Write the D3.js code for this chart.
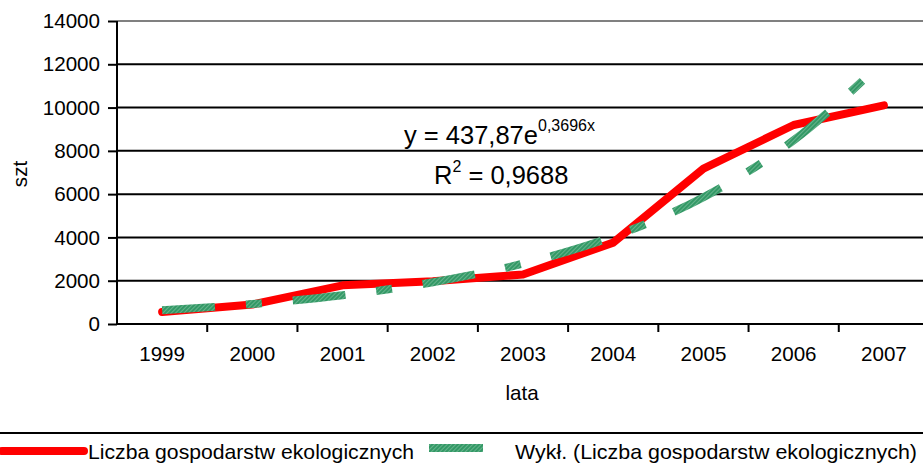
<html>
<head>
<script src="https://cdn.jsdelivr.net/npm/d3@7"></script>
<style>
  body { margin: 0; background: #fff; }
  text { font-family: Arial, "Liberation Sans", sans-serif; fill: #000; }
</style>
</head>
<body>
<div id="chart"></div>
<script>
// data
var years = ["1999", "2000", "2001", "2002", "2003", "2004", "2005", "2006", "2007"];
var farms = [555, 900, 1787, 1977, 2286, 3760, 7182, 9194, 10100];
var trend = [640, 920, 1330, 1930, 2790, 4040, 5860, 8490, 12170];
var yTicks = [0, 2000, 4000, 6000, 8000, 10000, 12000, 14000];

var width = 923, height = 465;
var plot = { left: 117, top: 21, right: 929, bottom: 324 };
var fs = "20.6px";

var svg = d3.select("#chart").append("svg").attr("width", width).attr("height", height);

// hatched green texture for the trend line
var pat = svg.append("defs").append("pattern").attr("id", "hatch")
  .attr("patternUnits", "userSpaceOnUse").attr("width", 3).attr("height", 3)
  .attr("patternTransform", "rotate(45)");
pat.append("rect").attr("width", 3).attr("height", 3).attr("fill", "#339966");
pat.append("rect").attr("width", 1).attr("height", 3).attr("fill", "#66b38c");

var x = d3.scaleBand().domain(years).range([plot.left, plot.right]);
var y = d3.scaleLinear().domain([0, 14000]).range([plot.bottom, plot.top]);

// gridlines
svg.selectAll(".grid").data(yTicks.filter(d => d > 0)).enter().append("line")
  .attr("x1", plot.left).attr("x2", width)
  .attr("y1", d => y(d)).attr("y2", d => y(d))
  .attr("stroke", d => d == 14000 ? "#808080" : "#000")
  .attr("stroke-width", 2);

// y axis
var yAxis = svg.append("g").attr("transform", "translate(" + plot.left + ",0)")
  .call(d3.axisLeft(y).tickValues(yTicks).tickSize(9).tickPadding(8).tickFormat(d3.format("d")));
yAxis.select(".domain").attr("stroke-width", 2).attr("d", "M0," + y(14000) + "V" + y(0));
yAxis.selectAll(".tick line").attr("stroke-width", 2);
yAxis.selectAll("text").style("font-size", fs).attr("font-family", null);

// x axis
var xAxis = svg.append("g").attr("transform", "translate(0," + plot.bottom + ")")
  .call(d3.axisBottom(x).tickSize(0).tickPadding(22));
xAxis.select(".domain").attr("stroke-width", 2).attr("d", "M" + plot.left + ",0H" + width);
xAxis.selectAll("text").style("font-size", fs).attr("font-family", null);
xAxis.selectAll(".sep").data(years.slice(1)).enter().append("line")
  .attr("x1", d => x(d)).attr("x2", d => x(d))
  .attr("y1", 0).attr("y2", 8)
  .attr("stroke", "#000").attr("stroke-width", 2);

// axis titles
svg.append("text").attr("x", 522).attr("y", 400).attr("text-anchor", "middle")
  .style("font-size", fs).text("lata");
svg.append("text").attr("transform", "translate(27,174) rotate(-90)").attr("text-anchor", "middle")
  .style("font-size", fs).text("szt");

var cx = d => x(d) + x.bandwidth() / 2;

// data line
var line = d3.line().x((d, i) => cx(years[i])).y(d => y(d));
svg.append("path").datum(farms)
  .attr("d", line)
  .attr("fill", "none").attr("stroke", "#ff0000").attr("stroke-width", 8)
  .attr("stroke-linejoin", "round").attr("stroke-linecap", "round");

// exponential trend line
var trendLine = d3.line().x((d, i) => cx(years[i])).y(d => y(d)).curve(d3.curveMonotoneX);
svg.append("path").datum(trend)
  .attr("d", trendLine)
  .attr("fill", "none").attr("stroke", "url(#hatch)").attr("stroke-width", 8)
  .attr("stroke-dasharray", "53,31,16,31");

// equation
var eq = svg.append("text").attr("x", 404).attr("y", 144).style("font-size", "25.5px");
eq.append("tspan").text("y = 437,87e");
eq.append("tspan").attr("dy", -13).style("font-size", "16px").text("0,3696x");
var r2 = svg.append("text").attr("x", 434).attr("y", 184).style("font-size", "25.5px");
r2.append("tspan").text("R");
r2.append("tspan").attr("dy", -12).style("font-size", "16px").text("2");
r2.append("tspan").attr("dy", 12).text(" = 0,9688");

// legend
svg.append("line").attr("x1", 0).attr("x2", width).attr("y1", 433).attr("y2", 433)
  .attr("stroke", "#000").attr("stroke-width", 2);
svg.append("line").attr("x1", 2).attr("x2", 84).attr("y1", 451).attr("y2", 451)
  .attr("stroke", "#ff0000").attr("stroke-width", 8).attr("stroke-linecap", "round");
svg.append("text").attr("x", 88).attr("y", 459).style("font-size", fs)
  .attr("textLength", 326).attr("lengthAdjust", "spacingAndGlyphs")
  .text("Liczba gospodarstw ekologicznych");
svg.append("line").attr("x1", 429).attr("x2", 483).attr("y1", 448).attr("y2", 448)
  .attr("stroke", "url(#hatch)").attr("stroke-width", 8);
svg.append("text").attr("x", 515).attr("y", 459).style("font-size", fs)
  .attr("textLength", 402).attr("lengthAdjust", "spacingAndGlyphs")
  .text("Wykł. (Liczba gospodarstw ekologicznych)");
</script>
</body>
</html>
